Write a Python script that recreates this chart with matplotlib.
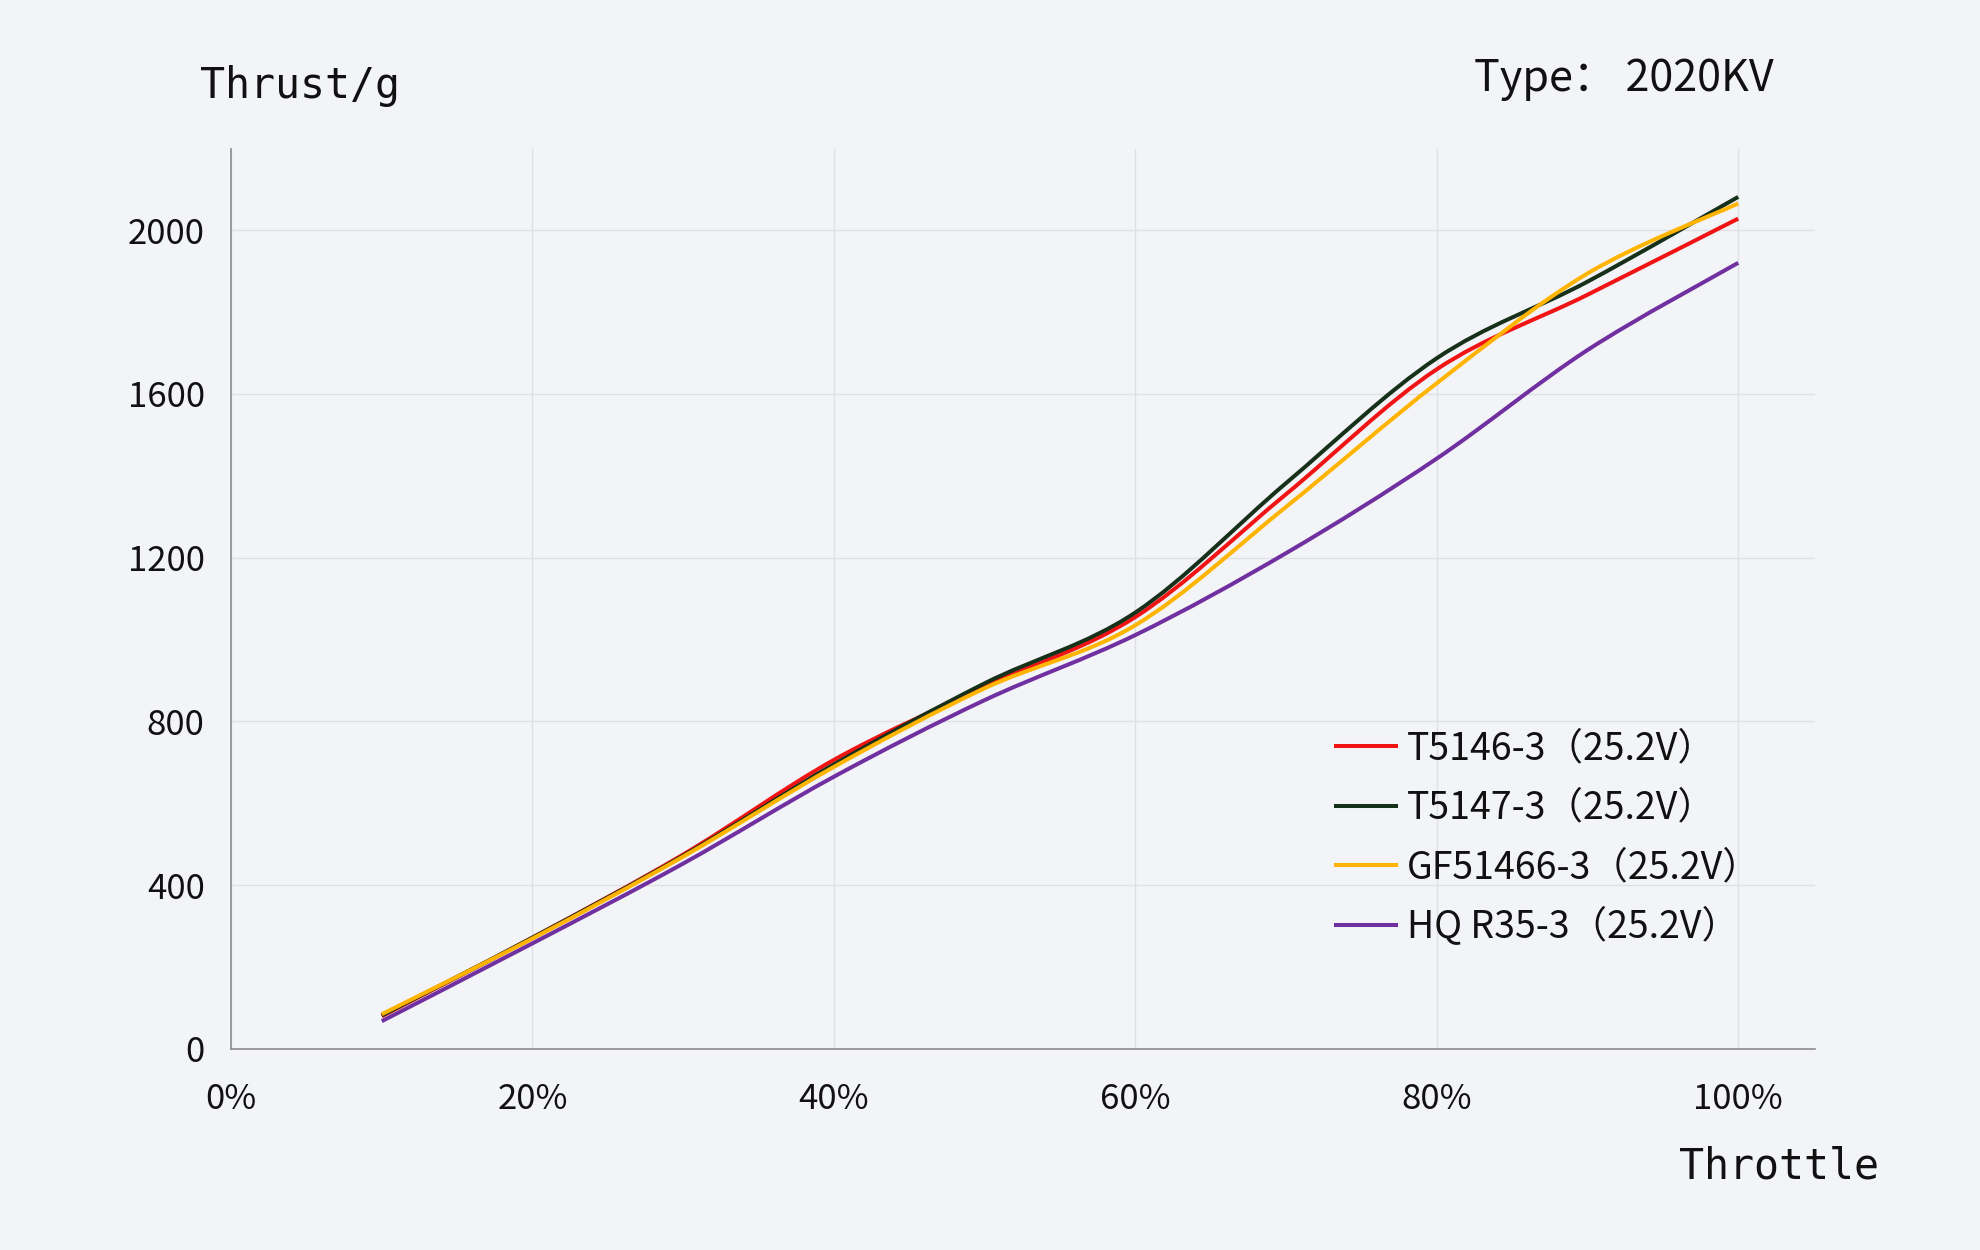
import matplotlib
matplotlib.use('agg')
import matplotlib.pyplot as plt
from matplotlib.path import Path
from matplotlib.patches import PathPatch
from matplotlib.lines import Line2D
import numpy as np

# throttle (%) and thrust (g)
throttle = [10, 20, 30, 40, 50, 60, 70, 80, 90, 100]
t5146 = [80, 272, 475, 706, 885, 1055, 1355, 1660, 1842, 2028]
t5147 = [82, 272, 472, 695, 893, 1066, 1382, 1687, 1874, 2081]
gf51466 = [85, 270, 470, 689, 881, 1035, 1324, 1626, 1894, 2065]
hqr35 = [68, 258, 453, 665, 852, 1011, 1211, 1442, 1707, 1920]

labels = ['T5146-3（25.2V）', 'T5147-3（25.2V）', 'GF51466-3（25.2V）', 'HQ R35-3（25.2V）']
colors = ['#f01414', '#17301a', '#ffb400', '#7030a0']
series = [t5146, t5147, gf51466, hqr35]

xticks = [0, 20, 40, 60, 80, 100]
xticklabels = ['0%', '20%', '40%', '60%', '80%', '100%']
yticks = [0, 400, 800, 1200, 1600, 2000]

cjk = ['Noto Sans CJK SC', 'DejaVu Sans']
mono = ['DejaVu Sans Mono']
bg = '#f3f4f8'


def smooth_path(x, y):
    # excel style smoothed line: catmull-rom segments as cubic beziers
    p = np.column_stack([x, y]).astype(float)
    pts = np.vstack([p[0], p, p[-1]])
    verts = [tuple(p[0])]
    codes = [Path.MOVETO]
    for i in range(1, len(pts) - 2):
        c1 = pts[i] + (pts[i + 1] - pts[i - 1]) / 6.0
        c2 = pts[i + 1] - (pts[i + 2] - pts[i]) / 6.0
        verts += [tuple(c1), tuple(c2), tuple(pts[i + 1])]
        codes += [Path.CURVE4] * 3
    return Path(verts, codes)


fig = plt.figure(figsize=(19.8, 12.5), dpi=100, facecolor=bg)
ax = fig.add_axes([0.1167, 0.1608, 0.80, 0.72], facecolor=bg)

handles = []
for vals, col, lab in zip(series, colors, labels):
    patch = PathPatch(smooth_path(throttle, vals), facecolor='none', edgecolor=col,
                      lw=2.9, transform=ax.transData, zorder=3, capstyle='butt')
    ax.add_patch(patch)
    handles.append(Line2D([], [], color=col, lw=2.9))

ax.set_xlim(0, 105.1)
ax.set_ylim(0, 2198)
ax.set_xticks(xticks)
ax.set_xticklabels(xticklabels)
ax.set_yticks(yticks)
ax.tick_params(length=0, labelsize=25)
ax.tick_params(axis='x', pad=24)
ax.tick_params(axis='y', pad=19)
for t in ax.get_xticklabels() + ax.get_yticklabels():
    t.set_family(cjk)
    t.set_color('#111111')

ax.grid(True, color='#dfe0e5', lw=1.0)
ax.set_axisbelow(True)
for s in ['top', 'right']:
    ax.spines[s].set_visible(False)
for s in ['left', 'bottom']:
    ax.spines[s].set_color('#8c8c90')
    ax.spines[s].set_linewidth(1.2)

fig.text(0.101, 0.931, 'Thrust/g', family=mono, fontsize=30, va='center', ha='left', color='#111111')
fig.text(0.896, 0.937, 'Type： 2020KV', family=cjk, fontsize=31, va='center', ha='right', color='#111111')
fig.text(0.949, 0.067, 'Throttle', family=mono, fontsize=30, va='center', ha='right', color='#111111')

lgd = ax.legend(handles, labels, loc='upper left', bbox_to_anchor=(0.6747, 0.4168),
                bbox_transform=fig.transFigure, frameon=False, borderpad=0,
                borderaxespad=0, handlelength=1.6, handletextpad=0.3,
                labelspacing=0.55, prop={'family': cjk, 'size': 27})
for t in lgd.get_texts():
    t.set_color('#111111')

fig.savefig('out.png', dpi=100, facecolor=bg)
